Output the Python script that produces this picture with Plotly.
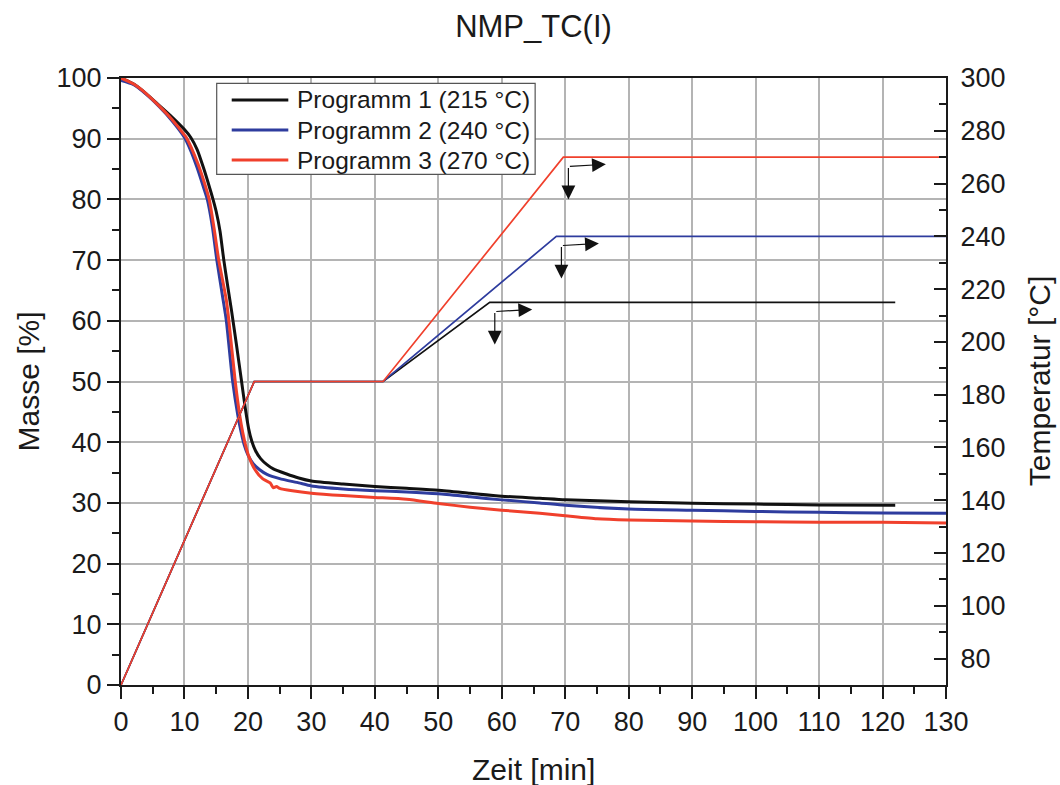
import plotly.graph_objects as go

# Mass loss (TGA) curves, time in min, mass in %
t_p1 = [0, 2, 4, 6, 8, 10, 11, 12, 13, 14, 14.5, 15, 15.6, 16.2, 16.8, 17.4, 18.2, 19.0, 19.6, 20.1, 20.6,
        21.2, 22.0, 23, 24, 26, 28, 30, 35, 40, 45, 50, 55, 60, 66, 70, 80, 90, 100, 110, 122]
m_p1 = [100, 99.0, 97.4, 95.5, 93.6, 91.5, 90.2, 88.2, 85.2, 81.8, 80, 78, 74.8, 70, 65.8, 61.8, 56, 50, 45.5, 42.3, 40.2,
        38.6, 37.3, 36.3, 35.6, 34.8, 34.1, 33.6, 33.1, 32.7, 32.4, 32.1, 31.6, 31.1, 30.75, 30.5, 30.2, 29.95, 29.8, 29.65, 29.6]

t_p2 = [0, 2, 4, 6, 8, 10, 11, 12, 13, 13.6, 14.4, 15.1, 16.1, 16.6, 17.6, 18.4, 18.9, 19.4, 20, 20.8, 21.8, 23, 25,
        28, 30, 35, 40, 45, 50, 55, 60, 66, 70, 80, 90, 100, 110, 120, 130]
m_p2 = [99.6, 98.9, 97.3, 95.3, 93.0, 90.2, 88, 85.2, 82, 80, 75.5, 70, 63.4, 60, 50, 44.5, 41.8, 39.6, 37.9, 36.5, 35.5, 34.7, 34,
        33.3, 32.8, 32.3, 32.0, 31.8, 31.5, 31.0, 30.5, 30.0, 29.6, 29.0, 28.8, 28.6, 28.45, 28.35, 28.3]

t_p3 = [0, 2, 4, 6, 8, 10, 10.4, 12, 13, 13.9, 14.7, 15.4, 16.6, 17.0, 18.0, 18.7, 19.2, 19.7, 20.2, 21.1, 22.3,
        23.5, 24, 24.5, 25, 27, 30, 35, 40, 45, 50, 55, 60, 66, 70, 75, 80, 90, 100, 110, 120, 130]
m_p3 = [100, 99.0, 97.4, 95.4, 93.2, 90.6, 90, 86.2, 83.2, 80, 75, 70, 63.4, 60, 50, 44.5, 41.5, 39.2, 37.5, 35.5, 34,
        33.3, 32.5, 32.7, 32.4, 32.0, 31.6, 31.2, 30.9, 30.6, 29.9, 29.3, 28.8, 28.3, 27.9, 27.4, 27.2, 27.0, 26.9, 26.8, 26.8, 26.7]

# Temperature programmes, time in min, temperature in °C
t_T1 = [0, 21, 41.3, 58.1, 122]
T_1 = [70, 185, 185, 215, 215]
t_T2 = [0, 21, 41.3, 68.6, 130]
T_2 = [70, 185, 185, 240, 240]
t_T3 = [0, 21, 41.3, 69.7, 130]
T_3 = [70, 185, 185, 270, 270]

names = ["Programm 1 (215 °C)", "Programm 2 (240 °C)", "Programm 3 (270 °C)"]
colors = ["#111111", "#2e3c9e", "#f0402c"]

x_ticks = list(range(0, 131, 10))
y_ticks = list(range(0, 101, 10))
y2_ticks = list(range(80, 301, 20))

FONT = "Liberation Sans, Arial, sans-serif"
AX = "#1a1a1a"
GRID = "#b4b4b4"
TICK_SIZE = 27
TITLE_SIZE = 30

fig = go.Figure()

temps = [(t_T1, T_1), (t_T2, T_2), (t_T3, T_3)]
for (tt, TT), c in zip(temps, colors):
    fig.add_trace(go.Scatter(x=tt, y=TT, mode="lines", yaxis="y2", showlegend=False,
                             line=dict(color=c, width=1.7), hoverinfo="skip"))

masses = [(t_p1, m_p1), (t_p2, m_p2), (t_p3, m_p3)]
for (tt, mm), c, n in zip(masses, colors, names):
    fig.add_trace(go.Scatter(x=tt, y=mm, mode="lines", name=n, showlegend=False,
                             line=dict(color=c, width=3, shape="spline", smoothing=0.6)))

# Axis-assignment arrows next to each hold plateau
annotations = []
for (tt, TT) in temps:
    x0 = tt[3] + 0.8
    y0 = TT[3] - 3.5
    annotations.append(dict(x=x0 + 5.9, y=y0 + 0.8, ax=x0, ay=y0, xref="x", yref="y2",
                            axref="x", ayref="y2", text="", showarrow=True,
                            arrowhead=2, arrowsize=2.3, arrowwidth=1.2, arrowcolor="#111"))
    annotations.append(dict(x=x0, y=y0 - 12.5, ax=x0, ay=y0, xref="x", yref="y2",
                            axref="x", ayref="y2", text="", showarrow=True,
                            arrowhead=2, arrowsize=2.3, arrowwidth=1.2, arrowcolor="#111"))

# Legend box, drawn in plot-area (paper) coordinates
shapes = [dict(type="rect", xref="paper", yref="paper", x0=0.116, x1=0.502, y0=0.8413, y1=0.9913,
               line=dict(color="#555555", width=1.2), fillcolor="white", layer="above")]
legend_rows = [0.9638, 0.9143, 0.8649]
for n, c, yr in zip(names, colors, legend_rows):
    shapes.append(dict(type="line", xref="paper", yref="paper", x0=0.1342, x1=0.2028, y0=yr, y1=yr,
                       line=dict(color=c, width=3), layer="above"))
    annotations.append(dict(x=0.2109, y=yr, xref="paper", yref="paper", text=n, showarrow=False,
                            xanchor="left", yanchor="middle",
                            font=dict(size=24.5, family=FONT, color="#1a1a1a")))

# Axis titles
title_font = dict(size=TITLE_SIZE, family=FONT, color="#1a1a1a")
annotations += [
    dict(x=0.5, y=-0.14, xref="paper", yref="paper", text="Zeit [min]", showarrow=False,
         xanchor="center", yanchor="middle", font=title_font),
    dict(x=-0.1127, y=0.5, xref="paper", yref="paper", text="Masse [%]", showarrow=False,
         textangle=-90, xanchor="center", yanchor="middle", font=title_font),
    dict(x=1.1135, y=0.5, xref="paper", yref="paper", text="Temperatur [°C]", showarrow=False,
         textangle=-90, xanchor="center", yanchor="middle", font=title_font),
]

fig.update_layout(
    width=1060, height=785,
    margin=dict(l=121, r=114, t=78, b=100),
    paper_bgcolor="white", plot_bgcolor="white",
    font=dict(family=FONT, color="#1a1a1a", size=TICK_SIZE),
    title=dict(text="NMP_TC(I)", x=0.5, xanchor="center", xref="paper", y=0.967, yanchor="middle",
               font=dict(size=31, family=FONT, color="#1a1a1a")),
    xaxis=dict(range=[0, 130], tickvals=x_ticks, ticks="outside", ticklen=12, tickwidth=2,
               tickcolor=AX, showline=True, linecolor=AX, linewidth=2, mirror=True,
               showgrid=True, gridcolor=GRID, gridwidth=1.5, zeroline=False, automargin=False,
               minor=dict(dtick=5, ticks="outside", ticklen=7, tickwidth=2, tickcolor=AX, showgrid=False),
               tickfont=dict(size=TICK_SIZE)),
    yaxis=dict(range=[0, 100], tickvals=y_ticks, ticks="outside", ticklen=12, tickwidth=2,
               tickcolor=AX, showline=True, linecolor=AX, linewidth=2,
               showgrid=True, gridcolor=GRID, gridwidth=1.5, zeroline=False, automargin=False,
               minor=dict(dtick=5, ticks="outside", ticklen=7, tickwidth=2, tickcolor=AX, showgrid=False),
               tickfont=dict(size=TICK_SIZE)),
    yaxis2=dict(range=[70, 300], tickvals=y2_ticks, overlaying="y", side="right",
                ticks="inside", ticklen=12, tickwidth=2, tickcolor=AX,
                showline=True, linecolor=AX, linewidth=2, showgrid=False, zeroline=False, automargin=False,
                minor=dict(dtick=10, ticks="inside", ticklen=7, tickwidth=2, tickcolor=AX, showgrid=False),
                tickfont=dict(size=TICK_SIZE), ticklabelstandoff=7),
    annotations=annotations,
    shapes=shapes,
    showlegend=False,
)

fig.write_html("out.html")
